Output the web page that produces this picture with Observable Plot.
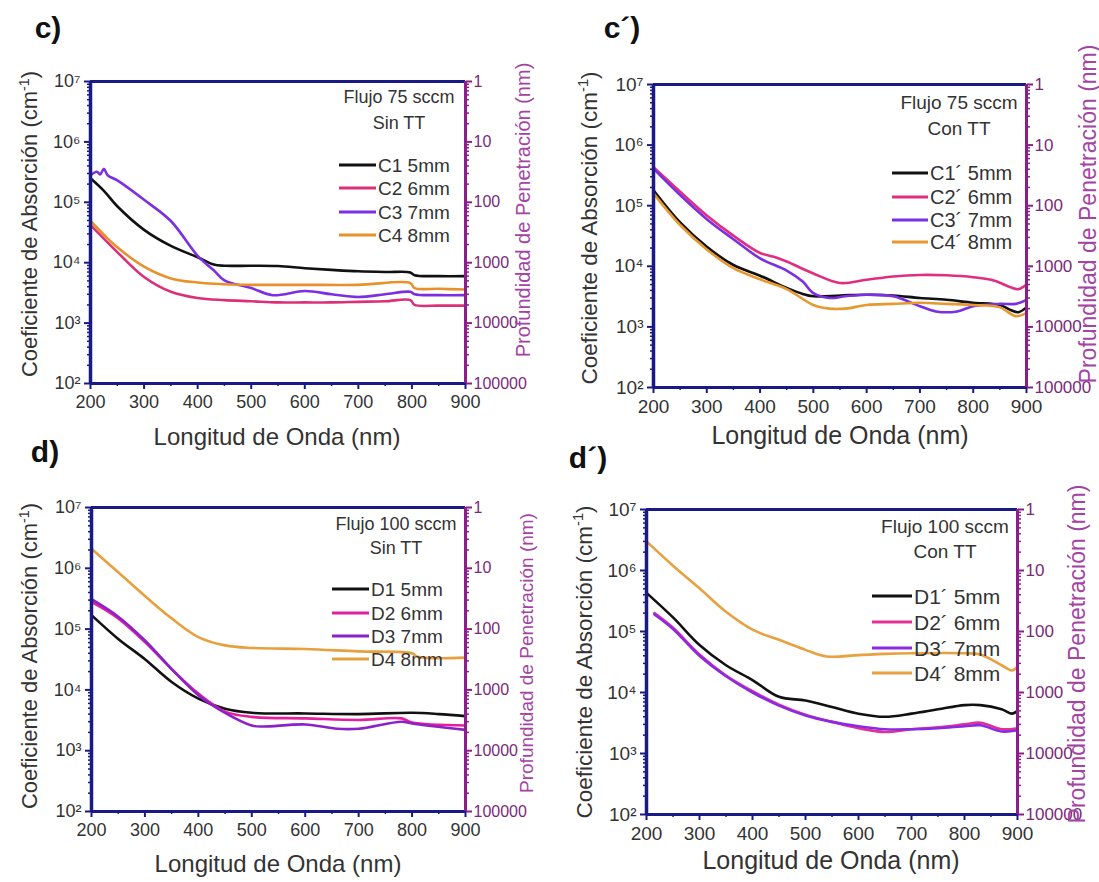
<!DOCTYPE html>
<html>
<head>
<meta charset="utf-8">
<script src="https://cdn.jsdelivr.net/npm/d3@7"></script>
<script src="https://cdn.jsdelivr.net/npm/@observablehq/plot@0.6"></script>
<style>
  body { margin: 0; background: #ffffff; }
  #fig { position: relative; width: 1099px; height: 882px; overflow: hidden; background: #fff;
         font-family: "Liberation Sans", Arial, sans-serif; color: #333; }
  .panel { position: absolute; }
  .txt { position: absolute; white-space: nowrap; transform: translate(-50%, -50%); line-height: 1; }
  .rot { transform: translate(-50%, -50%) rotate(-90deg); }
  .lbl { font-weight: bold; color: #111; }
  .leg { position: absolute; white-space: nowrap; line-height: 1; transform: translateY(-50%); color: #333; }
  .sw { position: absolute; height: 3px; transform: translateY(-50%); }
  sup { font-size: 65%; line-height: 0; }
</style>
</head>
<body>
<div id="fig"></div>
<script>
// ---------- axis ticks & labels ----------
const xTicks = [200, 300, 400, 500, 600, 700, 800, 900];
const xMinor = [250, 350, 450, 550, 650, 750, 850];
const yTicks = [1e2, 1e3, 1e4, 1e5, 1e6, 1e7];
const yTickLabels = ["10²", "10³", "10⁴", "10⁵", "10⁶", "10⁷"];
const depthLabels = ["100000", "10000", "1000", "100", "10", "1"];

// ---------- panel c (Flujo 75 sccm, Sin TT) ----------
const cLabels = ["C1 5mm", "C2 6mm", "C3 7mm", "C4 8mm"];
const C1 = [[200,2.5e5],[225,1.55e5],[250,8.6e4],[300,3.5e4],[350,1.9e4],[400,1.23e4],[430,9.3e3],[450,8.9e3],[500,8.9e3],[550,8.8e3],[600,8.1e3],[650,7.6e3],[700,7.2e3],[750,7.0e3],[797,6.9e3],[805,6.2e3],[850,6.0e3],[900,6.0e3]];
const C2 = [[200,4.2e4],[225,2.5e4],[250,1.5e4],[300,5.8e3],[350,3.3e3],[400,2.6e3],[450,2.4e3],[500,2.3e3],[550,2.2e3],[600,2.2e3],[650,2.2e3],[700,2.25e3],[750,2.3e3],[797,2.4e3],[805,2.0e3],[850,1.95e3],[900,1.95e3]];
const C3 = [[200,2.8e5],[212,3.2e5],[218,2.9e5],[225,3.6e5],[232,2.8e5],[250,2.3e5],[300,1.1e5],[350,4.9e4],[400,1.3e4],[430,7.5e3],[450,5.1e3],[500,3.8e3],[540,2.9e3],[600,3.4e3],[650,3.0e3],[700,2.7e3],[750,3.0e3],[797,3.3e3],[805,3.0e3],[850,2.9e3],[900,2.9e3]];
const C4 = [[200,4.9e4],[225,2.9e4],[250,1.8e4],[300,8.6e3],[350,5.5e3],[400,4.7e3],[450,4.4e3],[500,4.3e3],[600,4.3e3],[700,4.3e3],[797,4.6e3],[805,3.8e3],[850,3.7e3],[900,3.6e3]];

// ---------- panel c' (Flujo 75 sccm, Con TT) ----------
const cpLabels = ["C1´ 5mm", "C2´ 6mm", "C3´ 7mm", "C4´ 8mm"];
const C1p = [[200,1.8e5],[250,5.3e4],[300,2.1e4],[350,1.05e4],[400,7.0e3],[450,4.4e3],[480,3.5e3],[500,3.2e3],[550,3.3e3],[600,3.4e3],[650,3.3e3],[700,3.0e3],[750,2.8e3],[800,2.5e3],[850,2.3e3],[870,1.9e3],[885,1.75e3],[900,2.1e3]];
const C2p = [[200,4.3e5],[250,1.7e5],[300,6.9e4],[350,3.2e4],[400,1.66e4],[430,1.4e4],[450,1.2e4],[500,7.6e3],[550,5.3e3],[600,6.0e3],[650,6.8e3],[700,7.2e3],[750,7.1e3],[800,6.6e3],[840,5.8e3],[870,4.5e3],[885,4.2e3],[900,5.0e3]];
const C3p = [[200,4.1e5],[250,1.5e5],[300,6.0e4],[350,2.8e4],[400,1.35e4],[450,8.5e3],[480,5.6e3],[500,3.6e3],[530,3.0e3],[560,3.2e3],[600,3.4e3],[650,3.2e3],[700,2.2e3],[730,1.8e3],[770,1.8e3],[800,2.2e3],[850,2.4e3],[880,2.4e3],[900,2.8e3]];
const C4p = [[200,1.6e5],[250,4.8e4],[300,1.9e4],[350,9.3e3],[400,6.1e3],[450,4.2e3],[500,2.3e3],[530,2.0e3],[560,2.0e3],[600,2.3e3],[650,2.4e3],[700,2.5e3],[750,2.4e3],[800,2.3e3],[850,2.1e3],[880,1.5e3],[900,1.7e3]];

// ---------- panel d (Flujo 100 sccm, Sin TT) ----------
const dLabels = ["D1 5mm", "D2 6mm", "D3 7mm", "D4 8mm"];
const D1 = [[200,1.7e5],[250,6.9e4],[300,3.2e4],[350,1.35e4],[400,7.2e3],[450,4.9e3],[500,4.2e3],[600,4.1e3],[700,4.0e3],[800,4.2e3],[850,4.0e3],[900,3.7e3]];
const D2 = [[200,2.8e5],[250,1.5e5],[300,6.1e4],[350,2.2e4],[400,8.7e3],[450,4.4e3],[500,3.6e3],[600,3.4e3],[700,3.2e3],[780,3.4e3],[800,2.9e3],[900,2.6e3]];
const D3 = [[200,3.1e5],[250,1.6e5],[300,6.5e4],[350,2.2e4],[400,8.2e3],[450,4.2e3],[500,2.6e3],[520,2.5e3],[600,2.7e3],[660,2.3e3],[700,2.3e3],[780,3.0e3],[800,2.8e3],[900,2.2e3]];
const D4 = [[200,2.1e6],[250,8.6e5],[300,3.5e5],[350,1.5e5],[400,7.4e4],[450,5.4e4],[500,4.9e4],[600,4.7e4],[700,4.3e4],[800,4.0e4],[810,3.5e4],[900,3.4e4]];

// ---------- panel d' (Flujo 100 sccm, Con TT) ----------
const dpLabels = ["D1´ 5mm", "D2´ 6mm", "D3´ 7mm", "D4´ 8mm"];
const D1p = [[200,4.3e5],[250,1.7e5],[300,6.0e4],[350,2.8e4],[400,1.6e4],[450,8.5e3],[500,7.4e3],[550,5.8e3],[600,4.5e3],[650,4.0e3],[700,4.5e3],[750,5.3e3],[800,6.2e3],[830,6.2e3],[870,5.3e3],[890,4.5e3],[900,5.0e3]];
const D2p = [[215,2.0e5],[250,1.15e5],[300,4.2e4],[350,1.9e4],[400,1.05e4],[450,6.3e3],[500,4.3e3],[550,3.3e3],[600,2.6e3],[650,2.25e3],[700,2.5e3],[750,2.7e3],[800,3.0e3],[830,3.2e3],[870,2.5e3],[900,2.6e3]];
const D3p = [[215,1.9e5],[250,1.1e5],[300,4.0e4],[350,1.85e4],[400,1.0e4],[450,6.1e3],[500,4.2e3],[550,3.3e3],[600,2.8e3],[650,2.5e3],[700,2.5e3],[750,2.6e3],[800,2.8e3],[830,2.9e3],[870,2.3e3],[900,2.4e3]];
const D4p = [[200,3.0e6],[250,1.2e6],[300,5.1e5],[350,2.1e5],[400,1.07e5],[450,7.3e4],[500,5.0e4],[540,3.9e4],[600,4.1e4],[650,4.3e4],[700,4.4e4],[800,4.4e4],[830,4.2e4],[870,2.8e4],[890,2.3e4],[900,2.7e4]];

// ---------- styling ----------
const FONT = "'Liberation Sans', Arial, sans-serif";
const NAVY = "#1a1a86";
const PURPLE = "#8a1f8a";
const PURPLE_TXT = "#7a2a7a";
const PURPLE_TITLE = "#a343a3";

const yMinor = [];
for (let k = 0; k < yTicks.length - 1; k++) for (let m = 2; m <= 9; m++) yMinor.push(yTicks[k] * m);

const panels = [
  { tag: "c)", tagX: 48, tagY: 28, header: ["Flujo 75 sccm", "Sin TT"],
    left: 0, top: 0, w: 549, h: 441, mL: 90, mR: 84, mT: 81, mB: 58,
    tickFs: 18, rFs: 16, xTitle: [277, 437, 24], yTitle: [30, 224, 22], rTitle: [523, 210, 20],
    headX: 399, headY: [97, 123], headFs: 18, legY: [165, 188, 212, 235], legX: 378, swX: 339, legFs: 19,
    labels: cLabels, series: [C1, C2, C3, C4], colors: ["#111111", "#dc2f78", "#7b2fe0", "#e8912c"] },
  { tag: "c´)", tagX: 622, tagY: 28, header: ["Flujo 75 sccm", "Con TT"],
    left: 549, top: 0, w: 550, h: 441, mL: 104, mR: 73, mT: 84, mB: 54,
    tickFs: 19, rFs: 17, xTitle: [840, 435, 25], yTitle: [590, 228, 22.5], rTitle: [1088, 214, 23],
    headX: 959, headY: [102, 128], headFs: 19, legY: [173, 197, 220, 242], legX: 930, swX: 892, legFs: 20,
    labels: cpLabels, series: [C1p, C2p, C3p, C4p], colors: ["#111111", "#e02f82", "#7a30e0", "#e8982f"] },
  { tag: "d)", tagX: 45, tagY: 452, header: ["Flujo 100 sccm", "Sin TT"],
    left: 0, top: 441, w: 549, h: 441, mL: 91, mR: 84, mT: 66, mB: 71,
    tickFs: 18, rFs: 16, xTitle: [278, 864, 24], yTitle: [30, 656, 22], rTitle: [526, 653, 19],
    headX: 396, headY: [524, 548], headFs: 18, legY: [589, 613, 636, 659], legX: 371, swX: 332, legFs: 19,
    labels: dLabels, series: [D1, D2, D3, D4], colors: ["#111111", "#e41f9e", "#8a22c8", "#e8a03e"] },
  { tag: "d´)", tagX: 588, tagY: 458, header: ["Flujo 100 sccm", "Con TT"],
    left: 549, top: 441, w: 550, h: 441, mL: 97, mR: 82, mT: 68, mB: 68,
    tickFs: 19, rFs: 17, xTitle: [831, 860, 25], yTitle: [585, 662, 22.5], rTitle: [1077, 654, 23],
    headX: 945, headY: [526, 551], headFs: 19, legY: [596, 622, 648, 673], legX: 914, swX: 872, legFs: 21,
    labels: dpLabels, series: [D1p, D2p, D3p, D4p], colors: ["#111111", "#e2309a", "#8a2be2", "#e8a040"] }
];

const fig = document.getElementById("fig");

function addText(html, x, y, fs, cls, color) {
  const el = document.createElement("div");
  el.className = "txt " + (cls || "");
  el.style.left = x + "px";
  el.style.top = y + "px";
  el.style.fontSize = fs + "px";
  if (color) el.style.color = color;
  el.innerHTML = html;
  fig.appendChild(el);
  return el;
}

for (const p of panels) {
  const lines = p.series.map((s, i) =>
    Plot.line(s, { x: d => d[0], y: d => d[1], stroke: p.colors[i], strokeWidth: 2.6, curve: "catmull-rom" })
  );
  const chart = Plot.plot({
    width: p.w, height: p.h,
    marginLeft: p.mL, marginRight: p.mR, marginTop: p.mT, marginBottom: p.mB,
    x: { domain: [xTicks[0], xTicks[xTicks.length - 1]] },
    y: { type: "log", domain: [yTicks[0], yTicks[yTicks.length - 1]] },
    style: { fontFamily: FONT, background: "transparent", overflow: "visible" },
    marks: [
      ...lines,
      Plot.axisX({ ticks: xMinor, tickSize: 3, tickFormat: () => "", stroke: NAVY, strokeWidth: 1.5, label: null }),
      Plot.axisX({ ticks: xTicks, tickSize: 6, tickPadding: 6, tickFormat: d => String(d), fontSize: p.tickFs, fill: "#333", stroke: NAVY, strokeWidth: 2, label: null }),
      Plot.axisY({ anchor: "left", ticks: yMinor, tickSize: 3, tickFormat: () => "", stroke: NAVY, strokeWidth: 1.5, label: null }),
      Plot.axisY({ anchor: "left", ticks: yTicks, tickSize: 6, tickPadding: 4, tickFormat: d => yTickLabels[yTicks.indexOf(d)], fontSize: p.tickFs, fill: "#333", stroke: NAVY, strokeWidth: 2, label: null }),
      Plot.axisY({ anchor: "right", ticks: yMinor, tickSize: 3, tickFormat: () => "", stroke: PURPLE, strokeWidth: 1.5, label: null }),
      Plot.axisY({ anchor: "right", ticks: yTicks, tickSize: 6, tickPadding: 2, tickFormat: d => depthLabels[yTicks.indexOf(d)], fontSize: p.rFs, fill: PURPLE_TXT, stroke: PURPLE, strokeWidth: 2, label: null }),
      Plot.ruleY([yTicks[0]], { stroke: NAVY, strokeWidth: 3 }),
      Plot.ruleY([yTicks[yTicks.length - 1]], { stroke: NAVY, strokeWidth: 3 }),
      Plot.ruleX([xTicks[0]], { stroke: NAVY, strokeWidth: 3.5 }),
      Plot.ruleX([xTicks[xTicks.length - 1]], { stroke: PURPLE, strokeWidth: 3 })
    ]
  });
  chart.classList.add("panel");
  chart.style.left = p.left + "px";
  chart.style.top = p.top + "px";
  fig.appendChild(chart);

  // panel tag
  addText(p.tag, p.tagX, p.tagY, 30, "lbl");
  // axis titles
  addText("Longitud de Onda (nm)", p.xTitle[0], p.xTitle[1], p.xTitle[2], "", "#333");
  addText("Coeficiente de Absorción (cm<sup>-1</sup>)", p.yTitle[0], p.yTitle[1], p.yTitle[2], "rot", "#333");
  addText("Profundidad de Penetración (nm)", p.rTitle[0], p.rTitle[1], p.rTitle[2], "rot", PURPLE_TITLE);
  // legend header
  addText(p.header[0], p.headX, p.headY[0], p.headFs, "", "#333");
  addText(p.header[1], p.headX, p.headY[1], p.headFs, "", "#333");
  // legend entries
  p.labels.forEach((lab, i) => {
    const sw = document.createElement("div");
    sw.className = "sw";
    sw.style.left = p.swX + "px";
    sw.style.width = (p.legX - p.swX - 2) + "px";
    sw.style.top = p.legY[i] + "px";
    sw.style.background = p.colors[i];
    fig.appendChild(sw);
    const t = document.createElement("div");
    t.className = "leg";
    t.style.left = p.legX + "px";
    t.style.top = p.legY[i] + "px";
    t.style.fontSize = p.legFs + "px";
    t.textContent = lab;
    fig.appendChild(t);
  });
}
</script>
</body>
</html>
